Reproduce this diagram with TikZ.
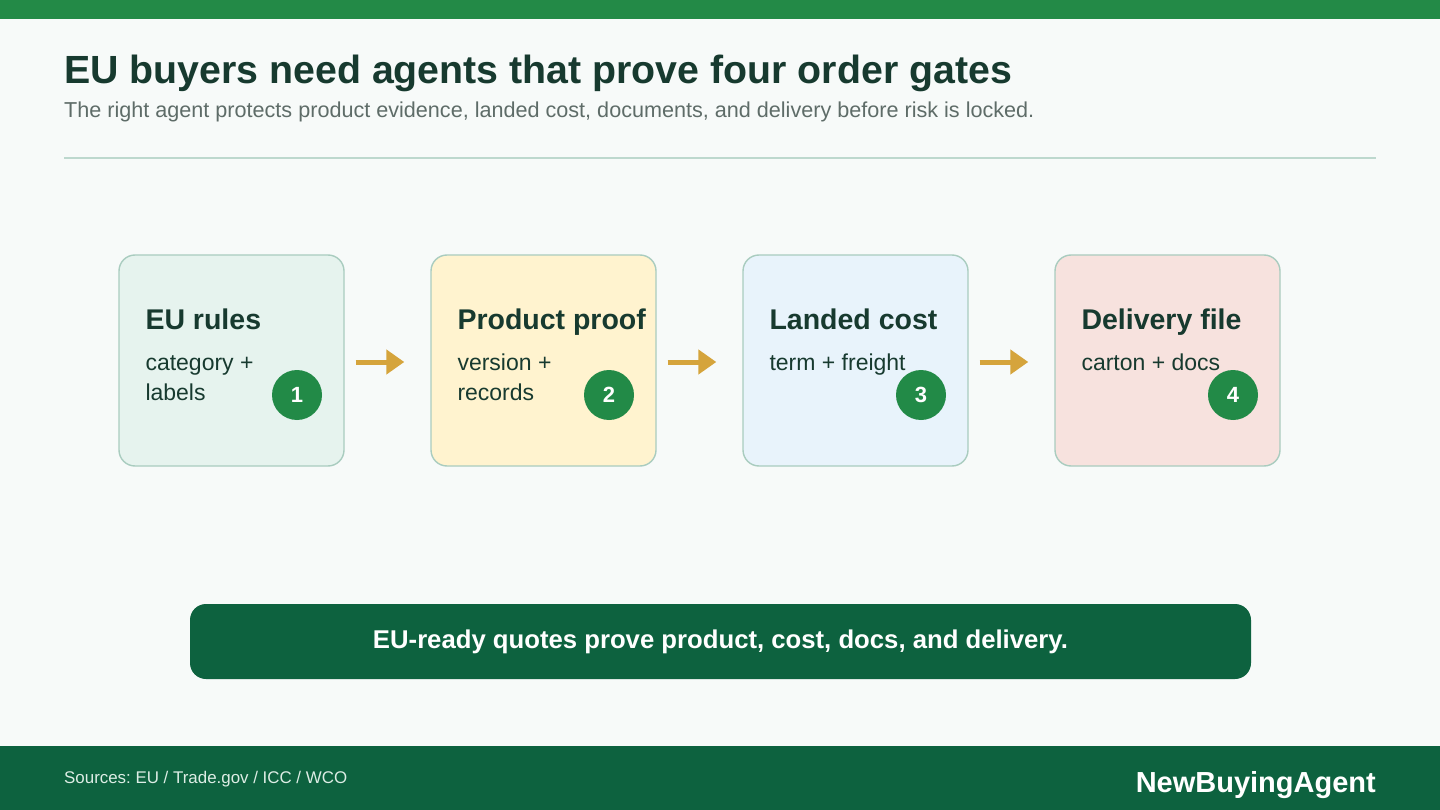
\documentclass[tikz,border=0pt]{standalone}
\usepackage{fontspec}
\setmainfont{Liberation Sans}
\frenchspacing
\usetikzlibrary{arrows.meta,positioning,calc}
\definecolor{ink}{HTML}{173A2F}
\definecolor{pagebg}{HTML}{F7FAF9}
\definecolor{topband}{HTML}{238A47}
\definecolor{subgrey}{HTML}{5E6C68}
\definecolor{rulegreen}{HTML}{BDD8CE}
\definecolor{cardedge}{HTML}{A9CCBF}
\definecolor{mintbg}{HTML}{E6F3EE}
\definecolor{sandbg}{HTML}{FFF3CF}
\definecolor{skybg}{HTML}{E8F3FB}
\definecolor{rosebg}{HTML}{F7E2DE}
\definecolor{badgegreen}{HTML}{228A47}
\definecolor{gold}{HTML}{D5A43C}
\definecolor{deepgreen}{HTML}{0D623F}
\definecolor{foottext}{HTML}{DDEDE5}

\begin{document}
\begin{tikzpicture}[x=1pt,y=-1pt,
    card/.style={draw=cardedge,line width=1.4pt,rounded corners=16pt,
                 minimum width=225pt,minimum height=211pt},
    cardtitle/.style={anchor=base west,inner sep=0pt,text=ink,
                      font=\fontsize{28.5}{34}\selectfont\bfseries},
    cardbody/.style={anchor=base west,inner sep=0pt,text=ink,align=left,
                     font=\fontsize{23}{30}\selectfont},
    badge/.style={circle,fill=badgegreen,minimum size=50pt,inner sep=0pt,
                  text=white,font=\fontsize{22}{26}\selectfont\bfseries},
    flow/.style={draw=gold,line width=5pt,
                 -{Triangle[length=18pt,width=24pt]},
                 shorten <=11pt,shorten >=26pt}]
  % page and bands
  \fill[pagebg] (0,0) rectangle (1440,810);
  \useasboundingbox (0,0) rectangle (1440,810);
  \fill[topband] (0,0) rectangle (1440,19);
  \fill[deepgreen] (0,746) rectangle (1440,810);

  % heading
  \node[anchor=base west,inner sep=0pt,text=ink,
        font=\fontsize{39.3}{44}\selectfont\bfseries] (title) at (64,84)
    {EU buyers need agents that prove four order gates};
  \node[anchor=base west,inner sep=0pt,text=subgrey,
        font=\fontsize{21.6}{26}\selectfont] (subtitle) at (64,118)
    {The right agent protects product evidence, landed cost, documents, and delivery before risk is locked.};
  \coordinate (ruleL) at (64,158);
  \coordinate (ruleR) at (1376,158);
  \draw[rulegreen,line width=2pt] (ruleL) -- (ruleR);

  % the four gates
  \node[card,fill=mintbg] (eurules) at (231.5,360.5) {};
  \node[card,fill=sandbg] (proof)   at (543.5,360.5) {};
  \node[card,fill=skybg]  (landed)  at (855.5,360.5) {};
  \node[card,fill=rosebg] (delivery) at (1167.5,360.5) {};

  % base of a two-line body is its last line
  \node[cardtitle] (eurulesT) at ($(eurules.north west)+(27,75)$) {EU rules};
  \node[cardbody]  (eurulesB) at ($(eurules.north west)+(27,146)$) {category +\\labels};
  \node[cardtitle] (proofT) at ($(proof.north west)+(27,75)$) {Product proof};
  \node[cardbody]  (proofB) at ($(proof.north west)+(27,146)$) {version +\\records};
  \node[cardtitle] (landedT) at ($(landed.north west)+(27,75)$) {Landed cost};
  \node[cardbody]  (landedB) at ($(landed.north west)+(27,116)$) {term + freight};
  \node[cardtitle] (deliveryT) at ($(delivery.north west)+(27,75)$) {Delivery file};
  \node[cardbody]  (deliveryB) at ($(delivery.north west)+(27,116)$) {carton + docs};

  \node[badge] (n1) at ($(eurules.center)+(65.5,34.5)$) {1};
  \node[badge] (n2) at ($(proof.center)+(65.5,34.5)$) {2};
  \node[badge] (n3) at ($(landed.center)+(65.5,34.5)$) {3};
  \node[badge] (n4) at ($(delivery.center)+(65.5,34.5)$) {4};

  \draw[flow] ($(eurules.east)+(0,1.5)$) -- ($(proof.west)+(0,1.5)$);
  \draw[flow] ($(proof.east)+(0,1.5)$) -- ($(landed.west)+(0,1.5)$);
  \draw[flow] ($(landed.east)+(0,1.5)$) -- ($(delivery.west)+(0,1.5)$);

  % takeaway
  \node[fill=deepgreen,rounded corners=16pt,minimum width=1061pt,minimum height=75pt,
        text=white,font=\fontsize{25.7}{30}\selectfont\bfseries] (verdict) at (720.5,641.5)
    {EU-ready quotes prove product, cost, docs, and delivery.};

  % footer
  \node[anchor=base west,inner sep=0pt,text=foottext,
        font=\fontsize{16.9}{20}\selectfont] (sources) at (64,783)
    {Sources: EU / Trade.gov / ICC / WCO};
  \node[anchor=base east,inner sep=0pt,text=white,
        font=\fontsize{29}{33}\selectfont\bfseries] (brand) at (1376,792)
    {NewBuyingAgent};
\end{tikzpicture}
\end{document}
